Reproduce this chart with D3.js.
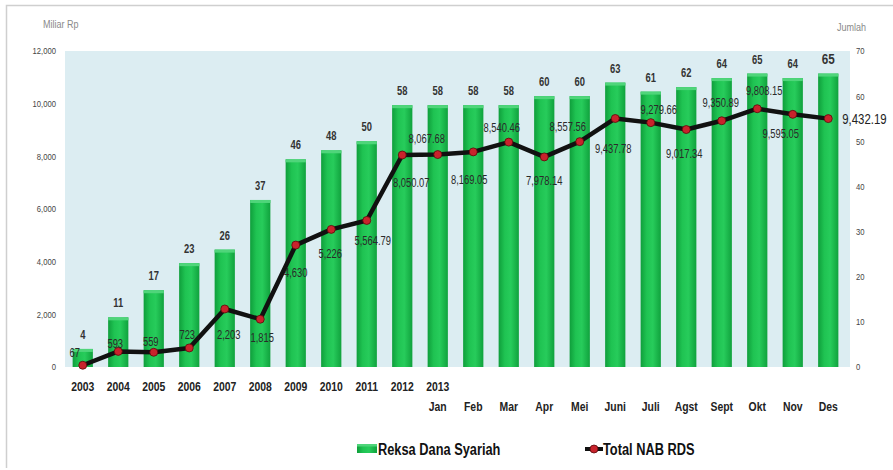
<!DOCTYPE html>
<html><head><meta charset="utf-8">
<script src="https://cdn.jsdelivr.net/npm/d3@7"></script>
<style>
html,body{margin:0;padding:0;background:#fff;}
svg{display:block;}
</style></head>
<body>
<svg id="chart" width="893" height="470"></svg>
<script>
// ---------- data ----------
const categories = ["2003","2004","2005","2006","2007","2008","2009","2010","2011","2012",
  "Jan","Feb","Mar","Apr","Mei","Juni","Juli","Agst","Sept","Okt","Nov","Des"];
const yearRow = ["2003","2004","2005","2006","2007","2008","2009","2010","2011","2012","2013",
  "","","","","","","","","","",""];
const monthRow = ["","","","","","","","","","",
  "Jan","Feb","Mar","Apr","Mei","Juni","Juli","Agst","Sept","Okt","Nov","Des"];
const reksaDanaCount = [4,11,17,23,26,37,46,48,50,58,58,58,58,60,60,63,61,62,64,65,64,65];
const totalNAB = [66.94,592.75,559.1,723.4,2203.09,1814.8,4629.6,5225.78,5564.79,8050.07,
  8067.68,8169.05,8540.46,7978.14,8557.56,9437.78,9279.66,9017.34,9350.89,9808.15,9595.05,9432.19];
const nabLabels = ["67","593","559","723","2,203","1,815","4,630","5,226","5,564.79","8,050.07",
  "8,067.68","8,169.05","8,540.46","7,978.14","8,557.56","9,437.78","9,279.66","9,017.34",
  "9,350.89","9,808.15","9,595.05","9,432.19"];
const leftTicks = [0,2000,4000,6000,8000,10000,12000];
const rightTicks = [0,10,20,30,40,50,60,70];
const seriesNames = ["Reksa Dana Syariah","Total NAB RDS"];

// label nudges for the line labels (layout only)
const nabLabelNudge = [[-8,-12],[-3,-8],[-3,-10],[-2,-13],[4,26],[2,19],[0,28],[-1,24],[6,20],[9,28],
  [-11,-16],[-4,28],[-7,-14],[0,24],[-12,-15],[-2,30],[8,-13],[-2,24],[-1,-18],[7,-18],[-12,19],[0,0]];

// ---------- layout ----------
const svg = d3.select("#chart");
const M = {l:65, r:850, t:51, b:367};
const FONT = "'Liberation Sans',Arial,sans-serif";

// squeeze text horizontally to mimic a narrow typeface
function condense(sel, f){
  sel.each(function(){
    const w = this.getComputedTextLength();
    if (w>0) d3.select(this).attr("textLength", w*f).attr("lengthAdjust","spacingAndGlyphs");
  });
}

// outer frame
svg.append("path").attr("d","M6.5,468 V5.5 H893").attr("fill","none").attr("stroke","#cfcfcf").attr("stroke-width",1.5);

// plot background
svg.append("rect").attr("x",M.l).attr("y",M.t).attr("width",M.r-M.l).attr("height",M.b-M.t).attr("fill","#dcedf2");

const x = d3.scaleBand().domain(categories).range([M.l, 846]).paddingInner(0.43).paddingOuter(0.215);
const yL = d3.scaleLinear().domain([0,12000]).range([M.b, M.t]);
const yR = d3.scaleLinear().domain([0,70]).range([M.b, M.t]);

// gradient for bars
const defs = svg.append("defs");
const g = defs.append("linearGradient").attr("id","barGrad").attr("x1","0").attr("x2","1").attr("y1","0").attr("y2","0");
g.append("stop").attr("offset","0%").attr("stop-color","#0f9e3b");
g.append("stop").attr("offset","30%").attr("stop-color","#1fc352");
g.append("stop").attr("offset","60%").attr("stop-color","#27cc5b");
g.append("stop").attr("offset","100%").attr("stop-color","#10a23d");

// bars
const bars = svg.append("g");
bars.selectAll("rect.bar").data(reksaDanaCount).join("rect")
  .attr("class","bar")
  .attr("x",(d,i)=>x(categories[i]))
  .attr("y",d=>yR(d))
  .attr("width",x.bandwidth())
  .attr("height",d=>yR(0)-yR(d))
  .attr("fill","url(#barGrad)");
bars.selectAll("rect.cap").data(reksaDanaCount).join("rect")
  .attr("class","cap")
  .attr("x",(d,i)=>x(categories[i]))
  .attr("y",d=>yR(d))
  .attr("width",x.bandwidth())
  .attr("height",3)
  .attr("fill","#4fd57a");

// bar labels
const bl = svg.append("g").selectAll("text").data(reksaDanaCount).join("text")
  .attr("x",(d,i)=>x(categories[i])+x.bandwidth()/2)
  .attr("y",d=>yR(d)-10)
  .attr("text-anchor","middle")
  .attr("font-family",FONT)
  .attr("font-size",(d,i)=>i===categories.length-1?15:12)
  .attr("font-weight","bold")
  .attr("fill","#333")
  .text(d=>d);
condense(bl,0.78);

// line
const cx = (i)=>x(categories[i])+x.bandwidth()/2;
const line = d3.line().x((d,i)=>cx(i)).y(d=>yL(d));
svg.append("path").datum(totalNAB).attr("d",line)
  .attr("fill","none").attr("stroke","#111").attr("stroke-width",4.5).attr("stroke-linejoin","round");
svg.append("g").selectAll("circle").data(totalNAB).join("circle")
  .attr("cx",(d,i)=>cx(i)).attr("cy",d=>yL(d)).attr("r",4)
  .attr("fill","#c8232c").attr("stroke","#5a0a0a").attr("stroke-width",0.8);

// line labels (all but the last one)
const last = categories.length-1;
const ll = svg.append("g").selectAll("text").data(totalNAB.slice(0,last)).join("text")
  .attr("x",(d,i)=> cx(i)+nabLabelNudge[i][0])
  .attr("y",(d,i)=> yL(d)+nabLabelNudge[i][1])
  .attr("dy","0.35em")
  .attr("text-anchor","middle")
  .attr("font-family",FONT)
  .attr("font-size",12)
  .attr("fill","#2a2a2a")
  .text((d,i)=>nabLabels[i]);
condense(ll,0.78);

// last value label, larger, to the right of the final point (squeezed with a transform)
svg.append("text")
  .attr("transform",`translate(${cx(last)+14},${yL(totalNAB[last])+5}) scale(0.76,1)`)
  .attr("x",0).attr("y",0)
  .attr("font-family",FONT).attr("font-size",15).attr("fill","#222")
  .text(nabLabels[last]);

// left axis
const axL = d3.axisLeft(yL).tickValues(leftTicks).tickFormat(d3.format(",")).tickSize(0).tickPadding(9);
const gL = svg.append("g").attr("transform",`translate(${M.l},0)`).call(axL);
gL.select(".domain").remove();
gL.selectAll("text").attr("font-family",FONT).attr("font-size",9).attr("fill","#444");
condense(gL.selectAll("text"),0.85);

// right axis
const axR = d3.axisRight(yR).tickValues(rightTicks).tickSize(0).tickPadding(6);
const gR = svg.append("g").attr("transform",`translate(${M.r},0)`).call(axR);
gR.select(".domain").remove();
gR.selectAll("text").attr("font-family",FONT).attr("font-size",9).attr("fill","#444");
condense(gR.selectAll("text"),0.85);

// axis titles
const t1 = svg.append("text").attr("x",43).attr("y",28).attr("font-family",FONT).attr("font-size",10).attr("fill","#8a8a8a").text("Miliar Rp");
const t2 = svg.append("text").attr("x",837).attr("y",31).attr("font-family",FONT).attr("font-size",10).attr("fill","#8a8a8a").text("Jumlah");
condense(t1,0.9); condense(t2,0.9);

// x axis labels
const xAx1 = d3.axisBottom(x).tickSize(0).tickPadding(15).tickFormat((d,i)=>yearRow[i]);
const gx1 = svg.append("g").attr("transform",`translate(0,${M.b})`).call(xAx1);
gx1.select(".domain").remove();
gx1.selectAll("text").attr("font-family",FONT).attr("font-size",13).attr("font-weight","bold").attr("fill","#222");
condense(gx1.selectAll("text"),0.8);
const xAx2 = d3.axisBottom(x).tickSize(0).tickPadding(35).tickFormat((d,i)=>monthRow[i]);
const gx2 = svg.append("g").attr("transform",`translate(0,${M.b})`).call(xAx2);
gx2.select(".domain").remove();
gx2.selectAll("text").attr("font-family",FONT).attr("font-size",13).attr("font-weight","bold").attr("fill","#222");
condense(gx2.selectAll("text"),0.8);

// legend
const lg = svg.append("g");
lg.append("rect").attr("x",357).attr("y",444).attr("width",20).attr("height",9).attr("fill","url(#barGrad)");
lg.append("rect").attr("x",357).attr("y",444).attr("width",20).attr("height",2.5).attr("fill","#4fd57a");
const lt1 = lg.append("text").attr("x",378).attr("y",455).attr("font-family",FONT).attr("font-size",16).attr("font-weight","bold").attr("fill","#111").text(seriesNames[0]);
lg.append("line").attr("x1",585).attr("x2",603).attr("y1",449).attr("y2",449).attr("stroke","#111").attr("stroke-width",4);
lg.append("circle").attr("cx",594).attr("cy",449).attr("r",4).attr("fill","#c8232c").attr("stroke","#5a0a0a").attr("stroke-width",0.8);
const lt2 = lg.append("text").attr("x",603).attr("y",455).attr("font-family",FONT).attr("font-size",16).attr("font-weight","bold").attr("fill","#111").text(seriesNames[1]);
condense(lt1,0.8); condense(lt2,0.8);
</script>
</body></html>
